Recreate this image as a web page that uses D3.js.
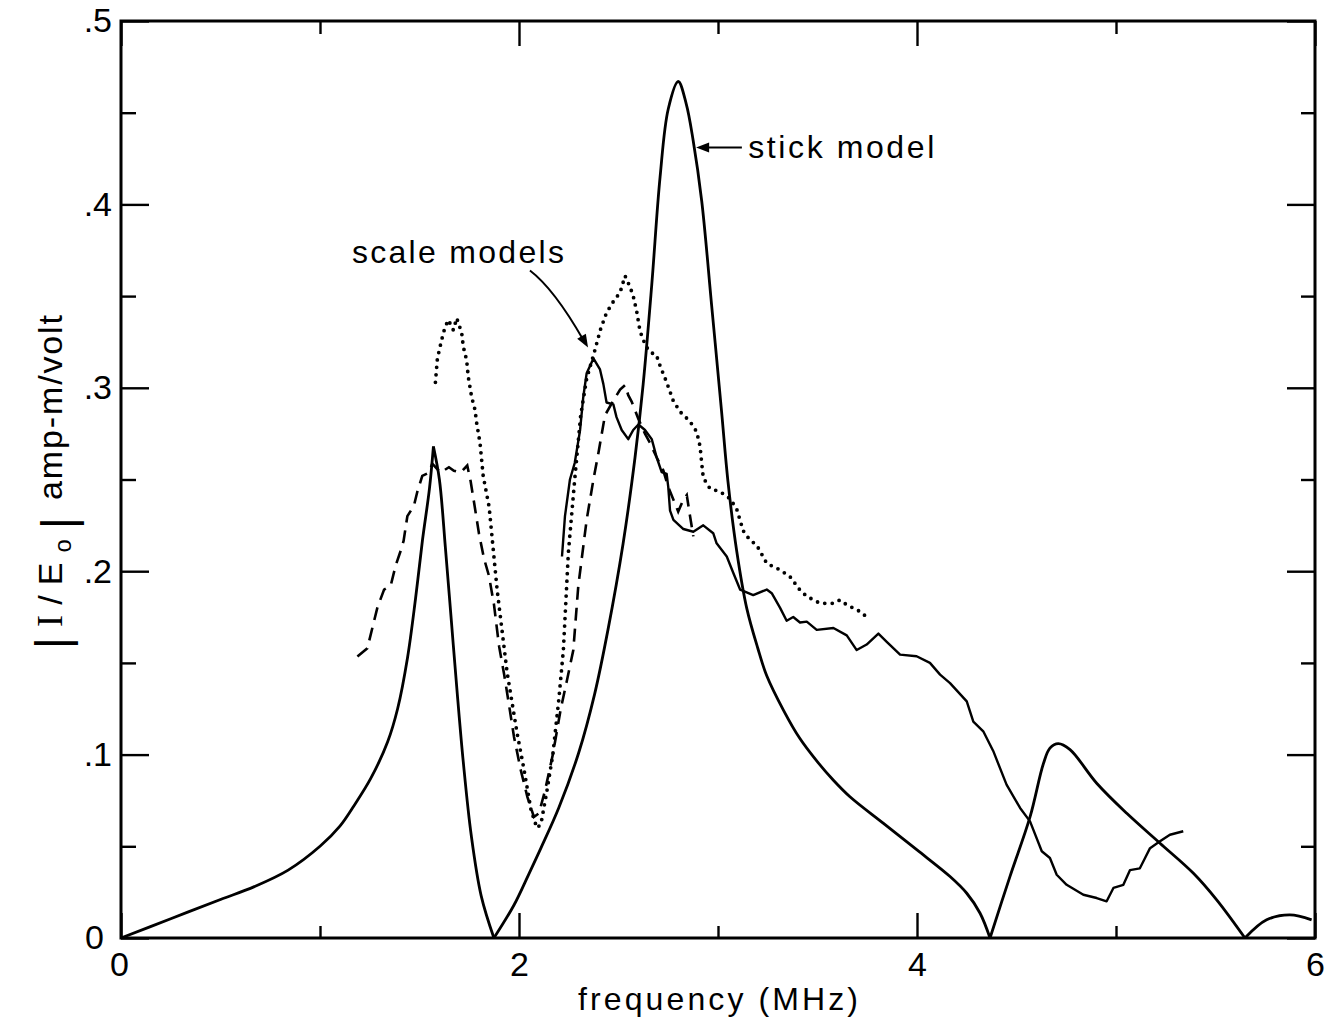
<!DOCTYPE html>
<html><head><meta charset="utf-8">
<script src="https://cdn.jsdelivr.net/npm/d3@7"></script>
<style>body{margin:0;background:#fff}svg{display:block}</style>
</head><body>
<svg id="c" width="1332" height="1027"></svg>
<script>
// ---- data (frequency in MHz, |I/E0| in amp-m/volt) ----
const stickFreq=[0,0.25,0.5,0.67,0.84,1.0,1.1,1.17,1.255,1.34,1.39,1.44,1.48,1.515,1.55,1.57,1.6,1.63,1.66,1.69,1.72,1.76,1.81,1.874,1.975,2.05,2.11,2.2,2.3,2.38,2.447,2.523,2.583,2.624,2.667,2.709,2.75,2.8,2.84,2.875,2.918,2.968,3.018,3.05,3.094,3.144,3.2,3.245,3.33,3.41,3.5,3.58,3.663,3.83,4.0,4.166,4.25,4.317,4.367,4.467,4.568,4.635,4.668,4.71,4.769,4.903,5.054,5.221,5.389,5.506,5.648,5.757,5.874,5.983];
const stickAmp=[0,0.0105,0.021,0.028,0.037,0.05,0.061,0.072,0.087,0.107,0.125,0.153,0.185,0.217,0.245,0.268,0.25,0.213,0.173,0.133,0.096,0.056,0.023,0,0.018,0.035,0.049,0.071,0.101,0.133,0.168,0.215,0.262,0.302,0.356,0.415,0.452,0.467,0.455,0.435,0.402,0.345,0.287,0.249,0.211,0.18,0.158,0.143,0.124,0.109,0.096,0.086,0.077,0.0626,0.048,0.0335,0.0244,0.0135,0,0.0335,0.066,0.095,0.1035,0.106,0.1027,0.0844,0.068,0.0517,0.0353,0.0208,0,0.0099,0.0126,0.0099];
const stickCusps=[1.57,1.874,4.367,5.648];

const solidFreq=[2.216,2.231,2.256,2.28,2.307,2.323,2.34,2.374,2.407,2.424,2.44,2.474,2.49,2.516,2.549,2.574,2.6,2.633,2.667,2.692,2.717,2.742,2.75,2.759,2.776,2.826,2.876,2.926,2.976,2.993,3.044,3.077,3.111,3.177,3.245,3.27,3.312,3.345,3.378,3.412,3.446,3.496,3.58,3.647,3.697,3.747,3.806,3.848,3.915,3.998,4.065,4.116,4.166,4.25,4.283,4.333,4.383,4.45,4.518,4.568,4.627,4.668,4.702,4.752,4.836,4.903,4.953,4.987,5.037,5.07,5.12,5.146,5.171,5.221,5.271,5.338];
const solidAmp=[0.208,0.23,0.25,0.259,0.277,0.295,0.308,0.316,0.31,0.302,0.292,0.291,0.284,0.277,0.272,0.277,0.28,0.277,0.272,0.262,0.254,0.253,0.246,0.233,0.228,0.223,0.2215,0.225,0.2207,0.2152,0.208,0.199,0.19,0.187,0.19,0.188,0.18,0.173,0.175,0.172,0.1725,0.168,0.169,0.165,0.157,0.16,0.166,0.1615,0.1545,0.1536,0.15,0.1436,0.139,0.129,0.118,0.1127,0.102,0.0836,0.0709,0.0636,0.0473,0.0436,0.0345,0.029,0.0236,0.0218,0.02,0.0273,0.029,0.037,0.038,0.0436,0.049,0.0527,0.0563,0.0582];

const dashedFreq=[1.188,1.238,1.263,1.288,1.322,1.355,1.38,1.405,1.42,1.439,1.472,1.489,1.514,1.548,1.564,1.606,1.648,1.673,1.707,1.74,1.757,1.774,1.799,1.824,1.849,1.874,1.9,1.925,1.95,1.975,2.008,2.042,2.075,2.1,2.13,2.17,2.21,2.24,2.273,2.298,2.34,2.374,2.4,2.432,2.474,2.508,2.533,2.549,2.566,2.6,2.633,2.658,2.692,2.725,2.75,2.776,2.8,2.826,2.843,2.86,2.876];
const dashedAmp=[0.1535,0.158,0.169,0.18,0.19,0.192,0.203,0.211,0.2165,0.23,0.2357,0.2433,0.252,0.2538,0.2586,0.2538,0.2567,0.2548,0.2538,0.2576,0.249,0.2376,0.2204,0.207,0.1975,0.182,0.159,0.144,0.127,0.1096,0.092,0.077,0.066,0.068,0.08,0.1,0.125,0.14,0.157,0.192,0.228,0.25,0.265,0.285,0.293,0.299,0.3015,0.296,0.2925,0.283,0.275,0.27,0.262,0.255,0.246,0.239,0.2325,0.239,0.2415,0.2297,0.219];

const dottedFreq=[1.58,1.59,1.611,1.628,1.645,1.67,1.687,1.712,1.72,1.737,1.745,1.762,1.779,1.787,1.804,1.82,1.85,1.89,1.94,1.99,2.025,2.06,2.09,2.11,2.14,2.17,2.2,2.223,2.248,2.28,2.31,2.34,2.38,2.41,2.44,2.474,2.508,2.533,2.558,2.574,2.591,2.608,2.625,2.642,2.667,2.69,2.709,2.742,2.775,2.809,2.859,2.893,2.91,2.918,2.926,2.96,3.01,3.06,3.094,3.127,3.16,3.194,3.245,3.312,3.362,3.412,3.446,3.513,3.58,3.613,3.647,3.714,3.764];
const dottedAmp=[0.303,0.316,0.326,0.333,0.337,0.3315,0.338,0.33,0.3225,0.315,0.306,0.295,0.288,0.281,0.27,0.252,0.235,0.19,0.145,0.112,0.092,0.07,0.06,0.062,0.08,0.1,0.13,0.157,0.21,0.25,0.285,0.305,0.32,0.332,0.341,0.347,0.352,0.361,0.355,0.35,0.342,0.331,0.326,0.322,0.319,0.318,0.312,0.303,0.293,0.287,0.2817,0.276,0.268,0.259,0.251,0.245,0.2434,0.2396,0.2339,0.222,0.217,0.2143,0.2043,0.2007,0.197,0.1897,0.1863,0.1825,0.1825,0.1843,0.1817,0.178,0.1735];

const xMajorTicks=[0,2,4,6];
const xTickLabels=["0","2","4","6"];
const xMinorTicks=[1,3,5];
const yMajorTicks=[0,0.1,0.2,0.3,0.4,0.5];
const yTickLabels=["0",".1",".2",".3",".4",".5"];
const yMinorTicks=[0.05,0.15,0.25,0.35,0.45];

// ---- drawing ----
const svg=d3.select("#c");
const x=d3.scaleLinear().domain([0,6]).range([121,1315]);
const y=d3.scaleLinear().domain([0,0.5]).range([938,21]);
const FONT="'Liberation Sans', Arial, sans-serif";

function styleAxis(g){
  g.select(".domain").remove();
  g.selectAll(".tick line").attr("stroke","#000").attr("stroke-width",2.4);
  g.selectAll(".tick text").attr("fill","#000").attr("font-family",FONT).attr("font-size",34);
}
const fmtX=d=>xTickLabels[xMajorTicks.indexOf(d)];
const fmtY=d=>yTickLabels[yMajorTicks.findIndex(v=>Math.abs(v-d)<1e-9)];

svg.append("g").attr("transform",`translate(0,${y(0)})`)
  .call(d3.axisBottom(x).tickValues(xMajorTicks).tickSize(-25).tickPadding(14).tickFormat(fmtX)).call(styleAxis)
  .selectAll(".tick text").attr("dx",d=>d===0?-2:0);
svg.append("g").attr("transform",`translate(0,${y(0)})`)
  .call(d3.axisBottom(x).tickValues(xMinorTicks).tickSize(-12).tickFormat("")).call(styleAxis);
svg.append("g").attr("transform",`translate(0,${y(0.5)})`)
  .call(d3.axisTop(x).tickValues(xMajorTicks).tickSize(-25).tickFormat("")).call(styleAxis);
svg.append("g").attr("transform",`translate(0,${y(0.5)})`)
  .call(d3.axisTop(x).tickValues(xMinorTicks).tickSize(-13).tickFormat("")).call(styleAxis);

svg.append("g").attr("transform",`translate(${x(0)},0)`)
  .call(d3.axisLeft(y).tickValues(yMajorTicks).tickSize(-28).tickPadding(9).tickFormat(fmtY)).call(styleAxis)
  .selectAll(".tick text").attr("dx",d=>d===0?-8:0);
svg.append("g").attr("transform",`translate(${x(0)},0)`)
  .call(d3.axisLeft(y).tickValues(yMinorTicks).tickSize(-15).tickFormat("")).call(styleAxis);
svg.append("g").attr("transform",`translate(${x(6)},0)`)
  .call(d3.axisRight(y).tickValues(yMajorTicks).tickSize(-28).tickFormat("")).call(styleAxis);
svg.append("g").attr("transform",`translate(${x(6)},0)`)
  .call(d3.axisRight(y).tickValues(yMinorTicks).tickSize(-14).tickFormat("")).call(styleAxis);

// frame
svg.append("rect").attr("x",x(0)).attr("y",y(0.5)).attr("width",x(6)-x(0)).attr("height",y(0)-y(0.5))
  .attr("fill","none").attr("stroke","#000").attr("stroke-width",3);

// axis titles
svg.append("text").attr("x",(x(0)+x(6))/2).attr("y",1010).attr("text-anchor","middle")
  .attr("font-family",FONT).attr("font-size",32).attr("textLength",280).attr("lengthAdjust","spacing")
  .text("frequency (MHz)");

const yt1=svg.append("text").attr("transform","translate(62,649) rotate(-90)")
  .attr("font-family",FONT).attr("font-size",34).attr("textLength",132).attr("lengthAdjust","spacing");
yt1.append("tspan").attr("font-size",46).attr("dy",6).text("|");
yt1.append("tspan").attr("font-family","'Liberation Serif', serif").attr("font-size",36).attr("dy",-6).text("I");
yt1.append("tspan").text("/E");
yt1.append("tspan").attr("font-size",24).attr("dy",9).text("o");
yt1.append("tspan").attr("font-size",46).attr("dy",3).text("|");
svg.append("text").attr("transform","translate(62,500) rotate(-90)")
  .attr("font-family",FONT).attr("font-size",34).attr("textLength",185).attr("lengthAdjust","spacing")
  .text("amp-m/volt");

// curves
const pts=(fs,vs)=>fs.map((f,i)=>[f,vs[i]]);
const lineSmooth=d3.line().x(d=>x(d[0])).y(d=>y(d[1])).curve(d3.curveCatmullRom.alpha(0.5));
const lineLin=d3.line().x(d=>x(d[0])).y(d=>y(d[1]));

// stick model: smooth pieces between cusps
const stickPts=pts(stickFreq,stickAmp);
const bounds=[0,...stickCusps,6];
for(let i=0;i<bounds.length-1;i++){
  const seg=stickPts.filter(p=>p[0]>=bounds[i]-1e-9&&p[0]<=bounds[i+1]+1e-9);
  svg.append("path").attr("d",lineSmooth(seg)).attr("fill","none").attr("stroke","#000").attr("stroke-width",2.8);
}
svg.append("path").attr("d",lineLin(pts(solidFreq,solidAmp))).attr("fill","none").attr("stroke","#000")
  .attr("stroke-width",2.4).attr("stroke-linejoin","round");
svg.append("path").attr("d",lineLin(pts(dashedFreq,dashedAmp))).attr("fill","none").attr("stroke","#000")
  .attr("stroke-width",2.6).attr("stroke-dasharray","13,8");
svg.append("path").attr("d",lineLin(pts(dottedFreq,dottedAmp))).attr("fill","none").attr("stroke","#000")
  .attr("stroke-width",3.8).attr("stroke-dasharray","0,7.5").attr("stroke-linecap","round");

// annotations
function arrowHead(px,py,ang){
  const L=13,W=5;
  const ca=Math.cos(ang),sa=Math.sin(ang);
  const p1=[px-L*ca+W*sa, py-L*sa-W*ca], p2=[px-L*ca-W*sa, py-L*sa+W*ca];
  svg.append("path").attr("d",`M${px},${py}L${p1[0]},${p1[1]}L${p2[0]},${p2[1]}Z`).attr("fill","#000");
}
const sx0=x(3.12), sx1=x(2.89), sy=y(0.431);
svg.append("line").attr("x1",sx0).attr("y1",sy).attr("x2",sx1+8).attr("y2",sy).attr("stroke","#000").attr("stroke-width",2);
arrowHead(sx1,sy,Math.PI);
svg.append("text").attr("x",x(3.152)).attr("y",sy+10).attr("font-family",FONT).attr("font-size",32)
  .attr("textLength",186).attr("lengthAdjust","spacing").text("stick model");
svg.append("text").attr("x",x(1.693)).attr("y",y(0.3735)+10).attr("text-anchor","middle").attr("font-family",FONT).attr("font-size",32)
  .attr("textLength",212).attr("lengthAdjust","spacing").text("scale models");
const a0=[x(2.055),y(0.364)], ac=[x(2.176),y(0.354)], a1=[x(2.347),y(0.322)];
svg.append("path").attr("d",`M${a0}Q${ac} ${a1[0]-5},${a1[1]-8}`).attr("fill","none").attr("stroke","#000").attr("stroke-width",2);
arrowHead(a1[0],a1[1],Math.atan2(a1[1]-ac[1],a1[0]-ac[0]));
</script>
</body></html>
